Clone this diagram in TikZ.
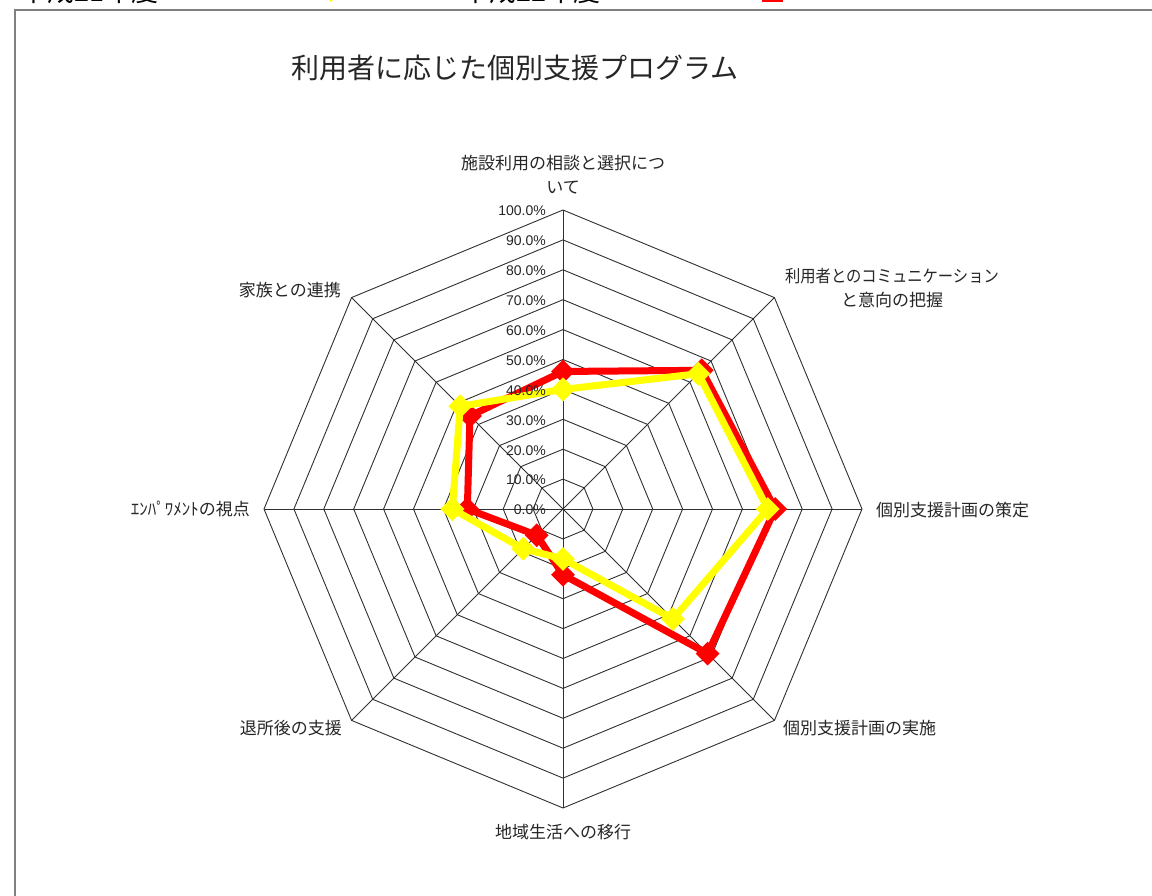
\documentclass[tikz,border=0pt]{standalone}
\usepackage{fontspec}
\setmainfont{Noto Sans CJK JP}
\newfontfamily\numfont{Liberation Sans}
\usetikzlibrary{shapes.geometric}
\definecolor{gridc}{HTML}{303030}
\definecolor{framec}{HTML}{808080}
\definecolor{serA}{HTML}{FF0000}
\definecolor{serB}{HTML}{FFFF00}
\tikzset{
  gridline/.style={draw=gridc, line width=0.9pt},
  frameline/.style={draw=framec, line width=2pt},
  axislabel/.style={font=\fontsize{17}{24}\selectfont, inner sep=0pt, text=black!85},
  ticklabel/.style={font=\numfont\fontsize{14}{15}\selectfont, inner sep=0pt, anchor=east, text=black!85},
  titlelabel/.style={font=\fontsize{28}{32}\selectfont, inner sep=0pt, text=black!85},
  legendlabel/.style={font=\fontsize{27}{30}\selectfont, inner sep=0pt, anchor=base west},
  serline/.style={line width=7pt, line join=round},
  mark red/.style={diamond, fill=serA, minimum width=24pt, minimum height=24pt, inner sep=0pt},
  mark yellow/.style={diamond, fill=serB, minimum width=24pt, minimum height=24pt, inner sep=0pt},
}
\begin{document}
\begin{tikzpicture}[x=1pt,y=-1pt]
\useasboundingbox (0,0) rectangle (1152,896);
\clip (0,0) rectangle (1152,896);
\fill[white] (0,0) rectangle (1152,896);

% legend (cut off at top)
\node[legendlabel] (leg1) at (20,2) {平成21年度：};
\node[diamond, fill=serB, minimum width=22pt, minimum height=22pt, inner sep=0pt] (legm1) at (331,-9) {};
\node[legendlabel] (leg2) at (462,2) {平成22年度：};
\node[fill=serA, minimum width=21pt, minimum height=21pt, inner sep=0pt] (legm2) at (772.5,-8.5) {};

% frame
\draw[frameline] (15,920) -- (15,10) -- (1180,10);

% title
\node[titlelabel] (title) at (515,68) {利用者に応じた個別支援プログラム};

% grid
\coordinate (c) at (563,509);
\foreach \i in {1,...,10}{
  \draw[gridline] (563,{509-29.9*\i})
    \foreach \k in {1,...,7}{ -- ({563+29.9*\i*sin(45*\k)},{509-29.9*\i*cos(45*\k)}) } -- cycle;
}
\foreach \k in {0,...,7}{
  \coordinate (v\k) at ({563+299*sin(45*\k)},{509-299*cos(45*\k)});
  \draw[gridline] (c) -- (v\k);
}

% series A (red)
\foreach \val [count=\k from 0] in {46,65.6,71,68.4,22,12.4,32,44}{
  \coordinate (r\k) at ({563+2.99*\val*sin(45*\k)},{509-2.99*\val*cos(45*\k)});
}
\draw[serline, draw=serA] (r0) -- (r1) -- (r2) -- (r3) -- (r4) -- (r5) -- (r6) -- (r7) -- cycle;
\foreach \k in {0,...,7}{ \node[mark red] (rm\k) at (r\k) {}; }

% series B (yellow)
\foreach \val [count=\k from 0] in {40,64,68.5,52,16.7,18.8,37,48.6}{
  \coordinate (y\k) at ({563+2.99*\val*sin(45*\k)},{509-2.99*\val*cos(45*\k)});
}
\draw[serline, draw=serB] (y0) -- (y1) -- (y2) -- (y3) -- (y4) -- (y5) -- (y6) -- (y7) -- cycle;
\foreach \k in {0,...,7}{ \node[mark yellow] (ym\k) at (y\k) {}; }

% tick labels
\foreach \i in {0,...,10}{
  \pgfmathtruncatemacro\p{10*\i}
  \node[ticklabel] (t\i) at (546,{510-29.9*\i}) {\p.0\%};
}

% axis labels
\node[axislabel, align=center] (l0) at (563,175) {施設利用の相談と選択につ\\いて};
\node[axislabel, align=center] (l1) at (892,288) {\scalebox{0.9}[1]{利用者とのコミュニケーション}\\と意向の把握};
\node[axislabel, anchor=west] (l2) at (876,510) {個別支援計画の策定};
\node[axislabel, anchor=west] (l3) at (783,728) {個別支援計画の実施};
\node[axislabel] (l4) at (563,832) {地域生活への移行};
\node[axislabel, anchor=east] (l5) at (342,728) {退所後の支援};
\node[axislabel, anchor=east] (l6) at (250,509) {ｴﾝﾊﾟﾜﾒﾝﾄの視点};
\node[axislabel, anchor=east] (l7) at (341,290) {家族との連携};
\end{tikzpicture}
\end{document}
